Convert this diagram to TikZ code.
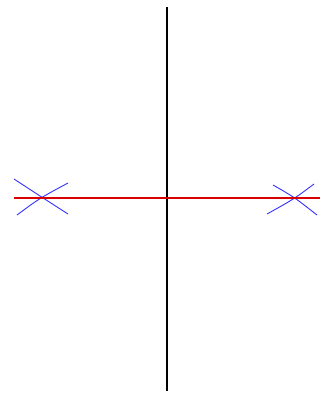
\documentclass[tikz,border=0pt]{standalone}
\begin{document}
\begin{tikzpicture}[x=1pt,y=-1pt,
  axisline/.style={black,line width=1.2pt},
  realaxis/.style={red!85!black,line width=1.8pt},
  branch/.style={blue!80,line width=0.9pt}]
\useasboundingbox (0,0) rectangle (324,399);
\coordinate (top) at (167,7);
\coordinate (bot) at (167,391);
\coordinate (lft) at (14,198);
\coordinate (rgt) at (320,198);
\coordinate (p1) at (40,198);
\coordinate (p2) at (294,198);
\draw[axisline] (top) -- (bot);
\draw[branch] (14,179) .. controls (40,196) .. (68,214);
\draw[branch] (17,215) .. controls (40,198) .. (68,183);
\draw[branch] (273,185) .. controls (294,197) .. (317,215);
\draw[branch] (267,214) .. controls (294,199) .. (314,184);
\draw[realaxis] (lft) -- (rgt);
\end{tikzpicture}
\end{document}
